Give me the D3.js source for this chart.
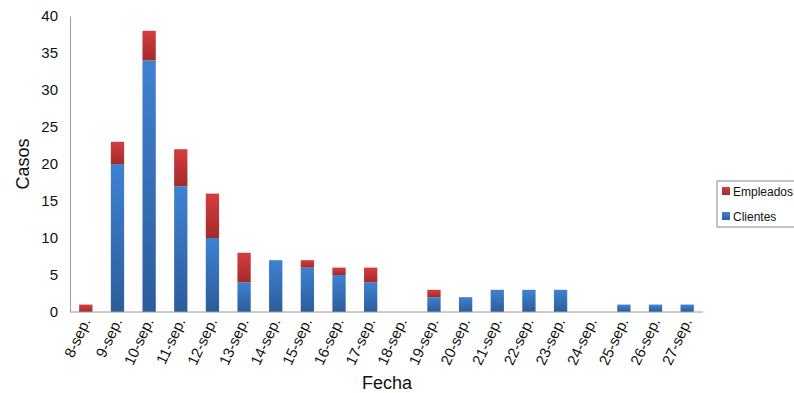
<!DOCTYPE html>
<html>
<head>
<meta charset="utf-8">
<script src="https://cdn.jsdelivr.net/npm/d3@7"></script>
<style>
  html, body { margin: 0; padding: 0; background: #fff; }
  svg { display: block; font-family: "Liberation Sans", Arial, Helvetica, sans-serif; }
</style>
</head>
<body>
<svg id="chart" width="794" height="393"></svg>
<script>
// Daily cases, 8 to 27 September
const fechas = ["8-sep.","9-sep.","10-sep.","11-sep.","12-sep.","13-sep.","14-sep.","15-sep.","16-sep.","17-sep.",
                "18-sep.","19-sep.","20-sep.","21-sep.","22-sep.","23-sep.","24-sep.","25-sep.","26-sep.","27-sep."];
const clientes  = [0, 20, 34, 17, 10, 4, 7, 6, 5, 4, 0, 2, 2, 3, 3, 3, 0, 1, 1, 1];
const empleados = [1,  3,  4,  5,  6, 4, 0, 1, 1, 2, 0, 1, 0, 0, 0, 0, 0, 0, 0, 0];
const yTicks = [0, 5, 10, 15, 20, 25, 30, 35, 40];

const series = [
  { key: "Clientes",  values: clientes,  top: "#3f82d2", bottom: "#2c5d9c" },
  { key: "Empleados", values: empleados, top: "#d53d3d", bottom: "#a42b2b" }
];

const svg = d3.select("#chart");
const m = { left: 70, right: 91, top: 16, bottom: 81 };
const W = 794, H = 393;

const x = d3.scaleBand().domain(fechas).range([m.left, W - m.right]).paddingInner(0.58).paddingOuter(0.29);
const y = d3.scaleLinear().domain([0, 40]).range([H - m.bottom, m.top]);

// Vertical gradients, lighter on top
const defs = svg.append("defs");
series.forEach(s => {
  const g = defs.append("linearGradient").attr("id", "g-" + s.key)
    .attr("x1", 0).attr("y1", 0).attr("x2", 0).attr("y2", 1);
  g.append("stop").attr("offset", "0%").attr("stop-color", s.top);
  g.append("stop").attr("offset", "100%").attr("stop-color", s.bottom);
});

// Stack the series
const rows = fechas.map((f, i) => ({ fecha: f, Clientes: clientes[i], Empleados: empleados[i] }));
const stack = d3.stack().keys(series.map(s => s.key))(rows);

svg.append("g").selectAll("g").data(stack).join("g")
  .attr("fill", d => "url(#g-" + d.key + ")")
  .selectAll("rect").data(d => d.filter(p => p[1] > p[0])).join("rect")
  .attr("x", d => x(d.data.fecha))
  .attr("width", x.bandwidth())
  .attr("y", d => y(d[1]))
  .attr("height", d => y(d[0]) - y(d[1]));

// Y axis
const yAxis = svg.append("g").attr("transform", `translate(${m.left},0)`)
  .call(d3.axisLeft(y).tickValues(yTicks).tickSize(0).tickPadding(12));
yAxis.select(".domain").attr("stroke", "#9a9a9a");
yAxis.selectAll("text").attr("font-size", 15).attr("fill", "#111");

// X axis
const xAxis = svg.append("g").attr("transform", `translate(0,${H - m.bottom})`)
  .call(d3.axisBottom(x).tickSize(0).tickSizeOuter(0));
xAxis.select(".domain").attr("stroke", "#9a9a9a").attr("d", `M${m.left},0H${W - m.right}`);
xAxis.selectAll("text")
  .attr("font-size", 15).attr("fill", "#111")
  .attr("text-anchor", "end")
  .attr("dy", 0).attr("y", 0)
  .attr("transform", "translate(5,9) rotate(-65)");

// Axis titles
svg.append("text").attr("x", 387).attr("y", 389).attr("text-anchor", "middle")
  .attr("font-size", 18).attr("fill", "#111").text("Fecha");
svg.append("text").attr("transform", "translate(29,164) rotate(-90)").attr("text-anchor", "middle")
  .attr("font-size", 18).attr("fill", "#111").text("Casos");

// Legend
const lg = svg.append("g").attr("transform", "translate(717,181)");
lg.append("rect").attr("width", 90).attr("height", 46).attr("fill", "#fff").attr("stroke", "#8a8a8a");
[series[1], series[0]].forEach((s, i) => {
  const row = lg.append("g").attr("transform", `translate(5,${10 + i * 25})`);
  row.append("rect").attr("x", 0).attr("y", -4).attr("width", 8).attr("height", 8).attr("fill", "url(#g-" + s.key + ")");
  row.append("text").attr("x", 11).attr("y", 5).attr("font-size", 12).attr("fill", "#111").text(s.key);
});
</script>
</body>
</html>
